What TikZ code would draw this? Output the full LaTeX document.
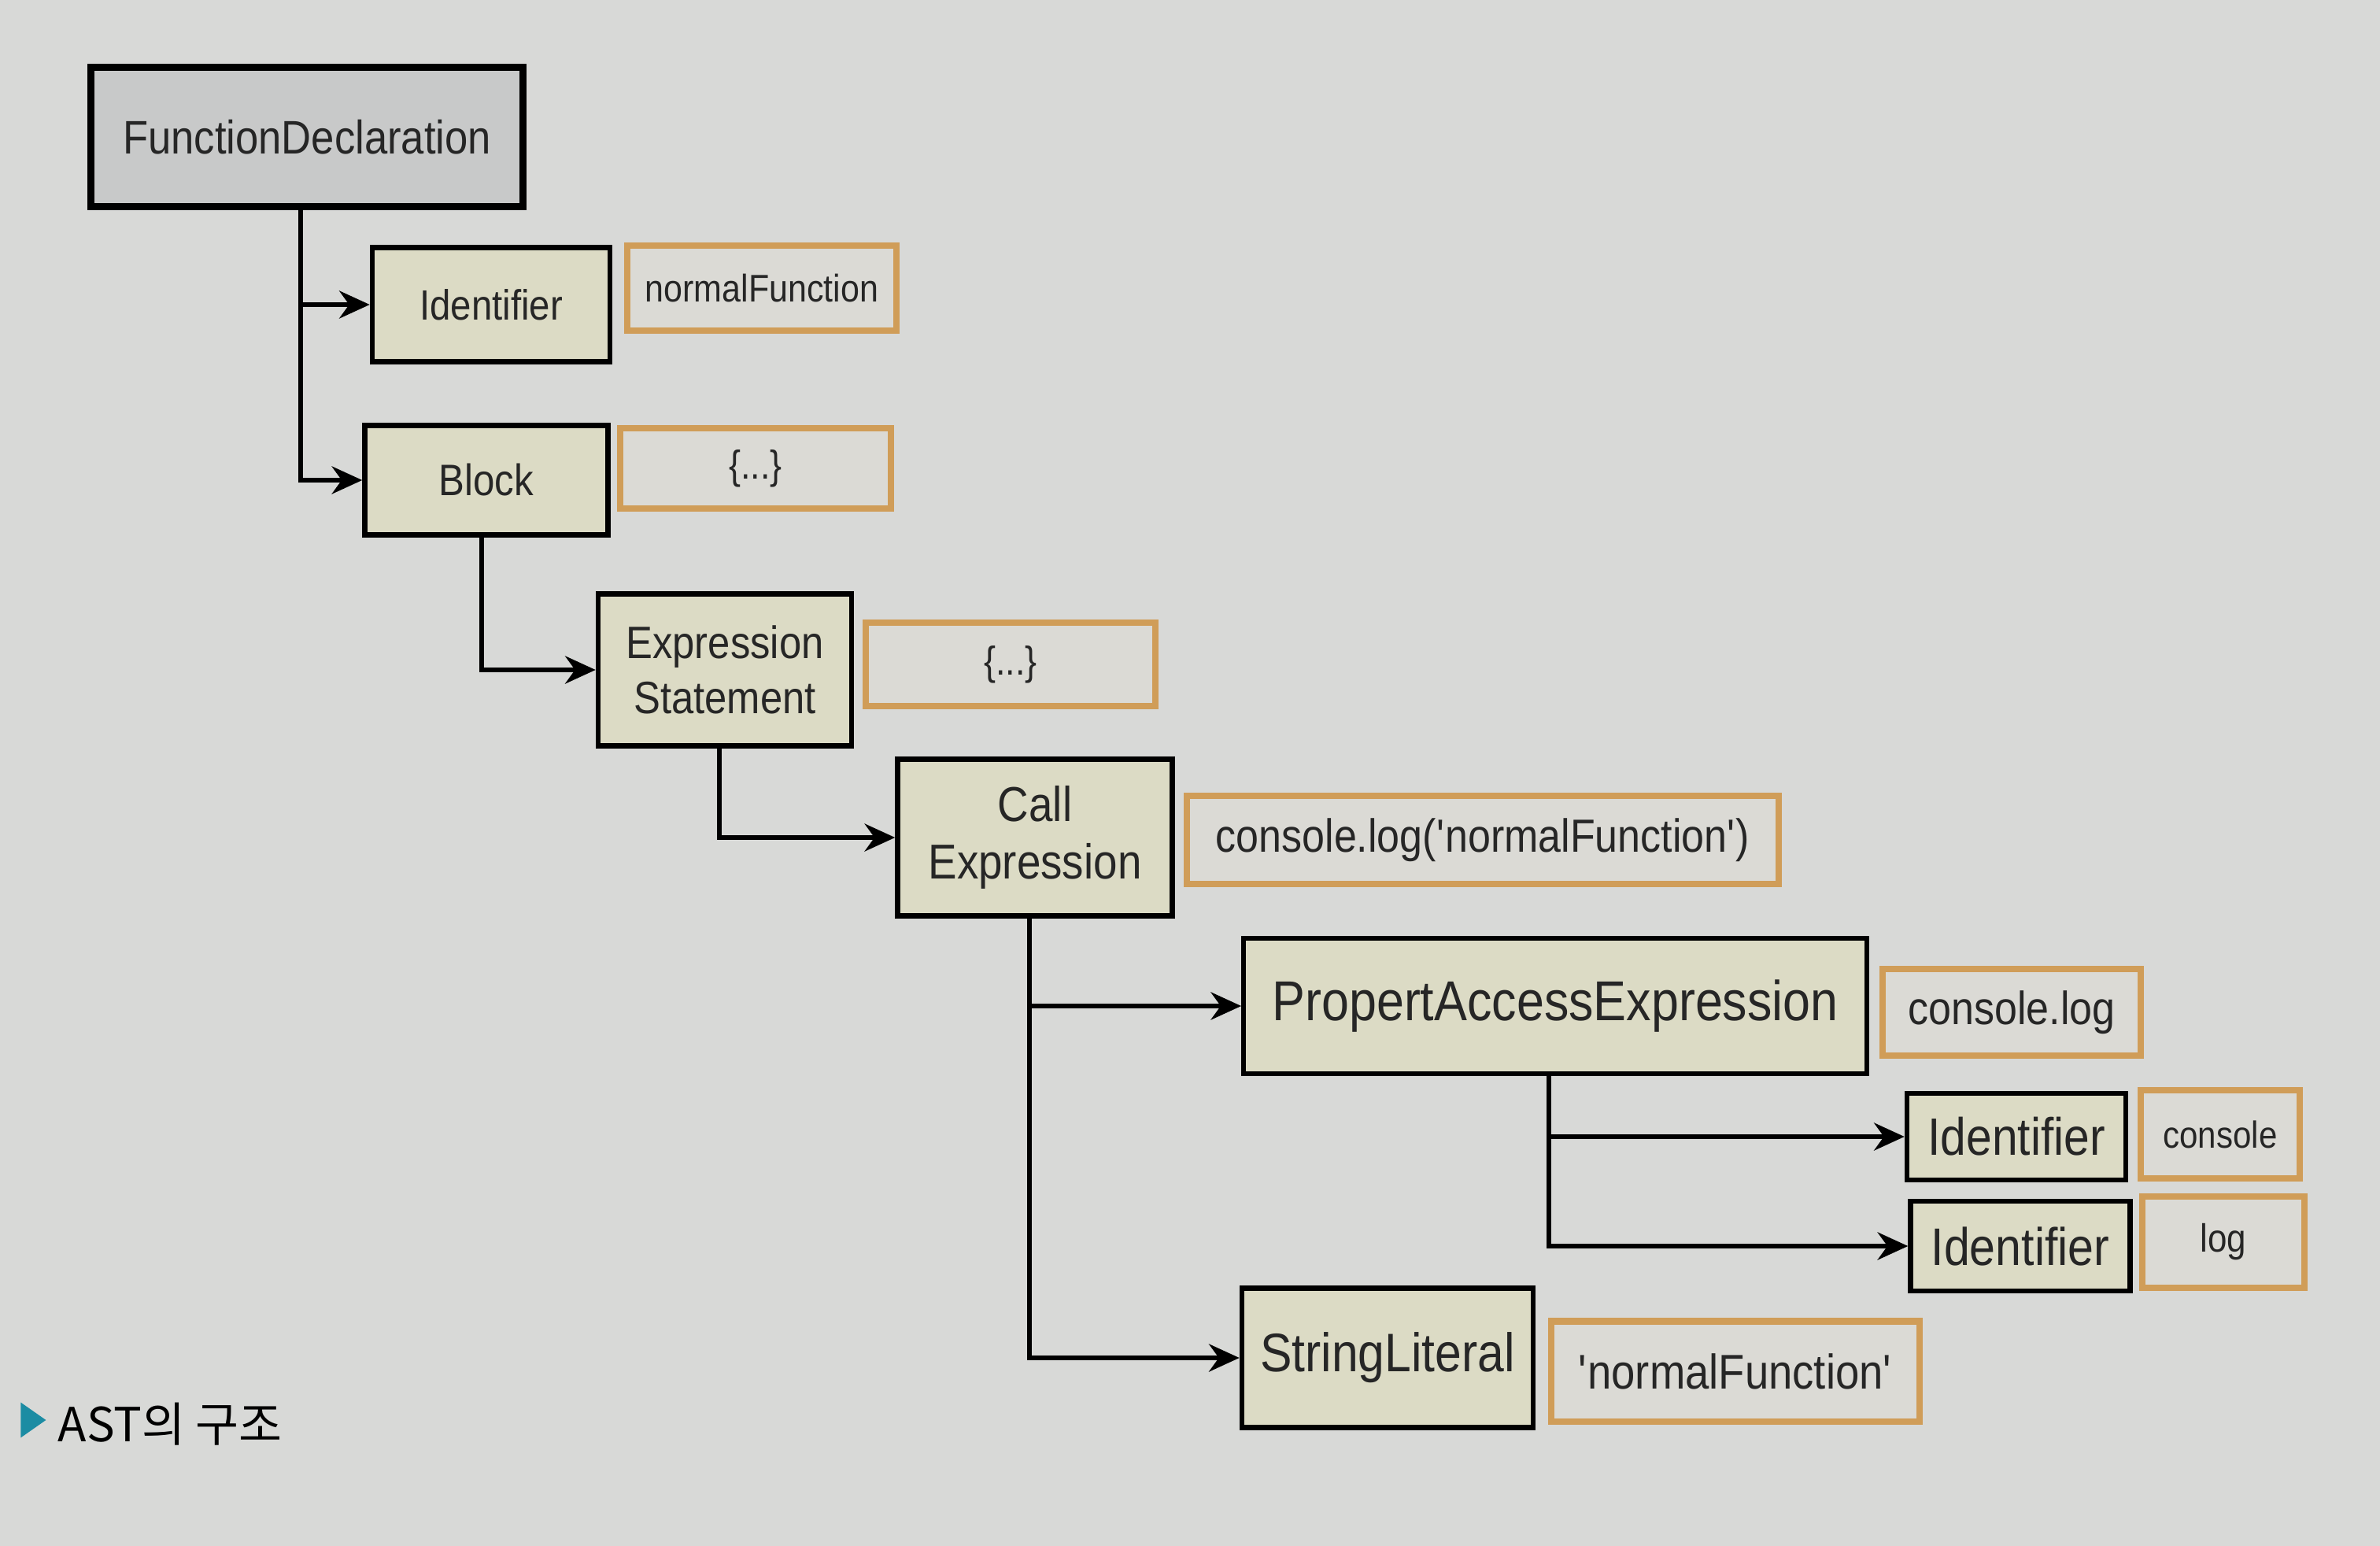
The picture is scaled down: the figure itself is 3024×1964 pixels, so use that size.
\documentclass[tikz,border=0pt]{standalone}
\usepackage{fontspec}
\setmainfont{Liberation Sans}[FakeStretch=0.88]
\newfontfamily\kr{Noto Sans CJK KR}
\usetikzlibrary{arrows.meta,shapes.geometric}

\definecolor{paper}{HTML}{D8D9D7}
\definecolor{nodefill}{HTML}{DCDBC5}
\definecolor{rootfill}{HTML}{C8C9C9}
\definecolor{valfill}{HTML}{DBDAD5}
\definecolor{valline}{HTML}{D09D58}
\definecolor{teal}{HTML}{1B8CA3}

\newcommand{\fsz}[2]{\fontsize{#1}{#2}\selectfont}

\tikzset{
  nd/.style={draw=black, line width=1.8pt, fill=nodefill, align=center, inner sep=0pt, text=black!85},
  root/.style={nd, fill=rootfill, line width=2.5pt},
  val/.style={draw=valline, line width=2.3pt, fill=valfill, align=center, inner sep=0pt, text=black!85},
  arr/.style={line width=1.5pt, -{Stealth[length=11pt,width=10pt]}}
}

\begin{document}
\begin{tikzpicture}[x=0.01cm,y=-0.01cm]

	%Background
	\fill[paper] (0,0) rectangle (3024,1964);
	\useasboundingbox (0,0) rectangle (3024,1964);

	%Root
	\node[root, minimum width=5.49cm, minimum height=1.77cm, font=\fsz{17}{20}] (fd) at (390,174) {FunctionDeclaration};

	%Identifier / Block
	\node[nd, minimum width=3.02cm, minimum height=1.45cm, font=\fsz{15.3}{18}] (id) at (624,387) {Identifier};
	\node[val, minimum width=3.41cm, minimum height=1.08cm, font=\fsz{13.9}{17}] (idval) at (968,366) {normalFunction};

	\node[nd, minimum width=3.09cm, minimum height=1.39cm, font=\fsz{15.9}{19}] (block) at (618,610) {Block};
	\node[val, minimum width=3.43cm, minimum height=1.02cm, font=\fsz{14.5}{17}] (blockval) at (960,595) {\{...\}};

	%ExpressionStatement
	\node[nd, minimum width=3.22cm, minimum height=1.93cm, font=\fsz{16.4}{19.7}] (expr) at (921,851) {Expression\\Statement};
	\node[val, minimum width=3.68cm, minimum height=1.06cm, font=\fsz{14.5}{17}] (exprval) at (1284,844) {\{...\}};

	%CallExpression
	\node[nd, minimum width=3.49cm, minimum height=1.99cm, font=\fsz{17.7}{20.8}] (call) at (1315,1064) {Call\\Expression};
	\node[val, minimum width=7.51cm, minimum height=1.12cm, font=\fsz{16.8}{20}] (callval) at (1884,1067) {console.log(\textquotesingle normalFunction\textquotesingle)};

	%PropertAccessExpression
	\node[nd, minimum width=7.91cm, minimum height=1.72cm, font=\fsz{20.3}{24}] (pae) at (1976,1278) {PropertAccessExpression};
	\node[val, minimum width=3.28cm, minimum height=1.10cm, font=\fsz{16.8}{20}] (paeval) at (2556,1286) {console.log};

	\node[nd, minimum width=2.78cm, minimum height=1.10cm, font=\fsz{19}{22}] (obj) at (2562,1444) {Identifier};
	\node[val, minimum width=2.02cm, minimum height=1.12cm, font=\fsz{13.6}{16}] (objval) at (2821,1441) {console};

	\node[nd, minimum width=2.79cm, minimum height=1.14cm, font=\fsz{19.1}{22}] (prop) at (2567,1583) {Identifier};
	\node[val, minimum width=2.06cm, minimum height=1.16cm, font=\fsz{14.2}{17}] (propval) at (2825,1578) {log};

	%StringLiteral
	\node[nd, minimum width=3.70cm, minimum height=1.77cm, font=\fsz{19.6}{23}] (str) at (1763,1725) {StringLiteral};
	\node[val, minimum width=4.67cm, minimum height=1.27cm, font=\fsz{17.6}{21}] (strval) at (2205,1742) {\textquotesingle normalFunction\textquotesingle};

	%Connectors
	\coordinate (fdt) at (382,262);
	\draw[arr] (fdt) |- (id);
	\draw[arr] (fdt) |- (block);

	\coordinate (blockt) at (612,679);
	\draw[arr] (blockt) |- (expr);

	\coordinate (exprt) at (914,947);
	\draw[arr] (exprt) |- (call);

	\coordinate (callt) at (1308,1163);
	\draw[arr] (callt) |- (pae);
	\draw[arr] (callt) |- (str);

	\coordinate (paet) at (1968,1364);
	\draw[arr] (paet) |- (obj);
	\draw[arr] (paet) |- (prop);

	%Caption
	\node[isosceles triangle, isosceles triangle apex angle=70, fill=teal, inner sep=0pt, minimum height=0.32cm, minimum width=0.38cm] (tri) at (38,1804) {};
	\node[anchor=west, inner sep=0pt, font=\kr\fsz{17}{20}] (cap) at (73,1809) {AST의 구조};

\end{tikzpicture}
\end{document}
